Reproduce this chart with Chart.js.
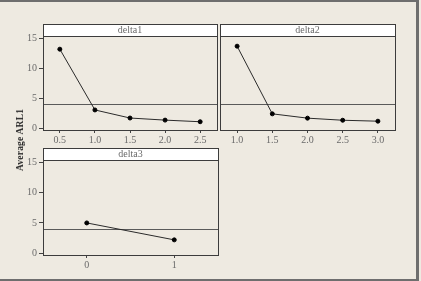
<!DOCTYPE html>
<html>
<head>
<meta charset="utf-8">
<script src="https://cdn.jsdelivr.net/npm/chart.js@4.4.1/dist/chart.umd.min.js"></script>
<style>
  html, body { margin: 0; padding: 0; }
  body { width: 421px; height: 281px; background: #eeeae1; position: relative; overflow: hidden; }
  #frame { position: absolute; left: -2px; top: 0; width: 418px; height: 277px;
           border-top: 2px solid #6e6e6e; border-right: 3px solid #6e6e6e; border-bottom: 2px solid #6e6e6e; }
  .panel { position: absolute; }
  #ylab { position: absolute; left: 20px; top: 140px; transform: translate(-50%, -50%) rotate(-90deg);
          font: bold 9.5px "Liberation Serif", serif; color: #2a2a2a; letter-spacing: 0.2px; white-space: nowrap; }
</style>
</head>
<body>
<div id="frame"></div>
<div class="panel" style="left:0px; top:20px; width:222px; height:135px;"><canvas id="c1"></canvas></div>
<div class="panel" style="left:200px; top:20px; width:200px; height:135px;"><canvas id="c2"></canvas></div>
<div class="panel" style="left:0px; top:144px; width:223px; height:136px;"><canvas id="c3"></canvas></div>
<div id="ylab">Average ARL1</div>
<script>
// values
var delta1X = [0.5, 1.0, 1.5, 2.0, 2.5];
var delta1Y = [13.2, 3.05, 1.7, 1.35, 1.08];
var delta2X = [1.0, 1.5, 2.0, 2.5, 3.0];
var delta2Y = [13.7, 2.4, 1.68, 1.33, 1.17];
var delta3X = [0, 1];
var delta3Y = [5.0, 2.2];
var refValue = 4;
var yTicks = [0, 5, 10, 15];
var xTicks1 = [0.5, 1.0, 1.5, 2.0, 2.5];
var xTicks2 = [1.0, 1.5, 2.0, 2.5, 3.0];
var xTicks3 = [0, 1];

var tickFont = { family: "'Liberation Serif', serif", size: 10 };
var tickColor = '#6a6a6a';

// strip on top of panel, reference line, panel border
var panelPlugin = {
  id: 'panel',
  beforeDatasetsDraw: function(chart, args, opts) {
    var ctx = chart.ctx, a = chart.chartArea;
    var y = chart.scales.y.getPixelForValue(refValue);
    ctx.save();
    ctx.strokeStyle = '#5a5a5a';
    ctx.lineWidth = 1;
    ctx.beginPath();
    ctx.moveTo(a.left, Math.round(y) + 0.5);
    ctx.lineTo(a.right, Math.round(y) + 0.5);
    ctx.stroke();
    ctx.restore();
  },
  afterDraw: function(chart, args, opts) {
    var ctx = chart.ctx, a = chart.chartArea;
    var top = a.top - opts.strip;
    ctx.save();
    ctx.fillStyle = '#ffffff';
    ctx.fillRect(a.left, top, a.right - a.left, opts.strip);
    ctx.strokeStyle = '#3c3c3c';
    ctx.lineWidth = 1;
    ctx.strokeRect(Math.round(a.left) + 0.5, Math.round(top) + 0.5, Math.round(a.right - a.left), Math.round(a.bottom - top));
    ctx.beginPath();
    ctx.moveTo(a.left, Math.round(a.top) + 0.5);
    ctx.lineTo(a.right, Math.round(a.top) + 0.5);
    ctx.stroke();
    ctx.fillStyle = '#6a6a6a';
    ctx.font = "10px 'Liberation Serif', serif";
    ctx.textAlign = 'center';
    ctx.textBaseline = 'middle';
    ctx.fillText(opts.title, (a.left + a.right) / 2, top + opts.strip / 2 + 0.5);
    ctx.restore();
  }
};

function makePanel(id, title, xs, ys, xTicks, xMin, xMax, decimals, showY, pad) {
  var pts = xs.map(function(x, i) { return { x: x, y: ys[i] }; });
  return new Chart(document.getElementById(id), {
    type: 'line',
    data: {
      datasets: [{
        data: pts,
        borderColor: '#2a2a2a',
        borderWidth: 1,
        pointRadius: 2,
        pointBackgroundColor: '#000',
        pointBorderColor: '#000',
        tension: 0
      }]
    },
    options: {
      responsive: true,
      maintainAspectRatio: false,
      animation: false,
      layout: { padding: pad },
      plugins: {
        legend: { display: false },
        tooltip: { enabled: false },
        panel: { title: title, strip: 12 }
      },
      scales: {
        x: {
          type: 'linear',
          min: xMin,
          max: xMax,
          afterBuildTicks: function(s) { s.ticks = xTicks.map(function(v) { return { value: v }; }); },
          afterFit: function(s) { s.height = 25; },
          ticks: {
            font: tickFont, color: tickColor, padding: 1, maxRotation: 0,
            callback: function(v) { return Number(v).toFixed(decimals); }
          },
          grid: { drawOnChartArea: false, tickLength: 3, color: '#444' },
          border: { display: false }
        },
        y: {
          min: -0.3,
          max: 15.4,
          afterBuildTicks: function(s) { s.ticks = yTicks.map(function(v) { return { value: v }; }); },
          afterFit: function(s) { s.width = showY ? 43 : 0; },
          ticks: { display: showY, font: tickFont, color: tickColor, padding: 2 },
          grid: { display: showY, drawOnChartArea: false, tickLength: 4, color: '#444' },
          border: { display: false }
        }
      }
    },
    plugins: [panelPlugin]
  });
}

makePanel('c1', 'delta1', delta1X, delta1Y, xTicks1, 0.26, 2.74, 1, true, { top: 16, right: 2, left: 0, bottom: 0 });
makePanel('c2', 'delta2', delta2X, delta2Y, xTicks2, 0.757, 3.243, 1, false, { top: 16, right: 3, left: 20, bottom: 0 });
makePanel('c3', 'delta3', delta3X, delta3Y, xTicks3, -0.5, 1.5, 0, true, { top: 16, right: 2, left: 0, bottom: 0 });
</script>
</body>
</html>
